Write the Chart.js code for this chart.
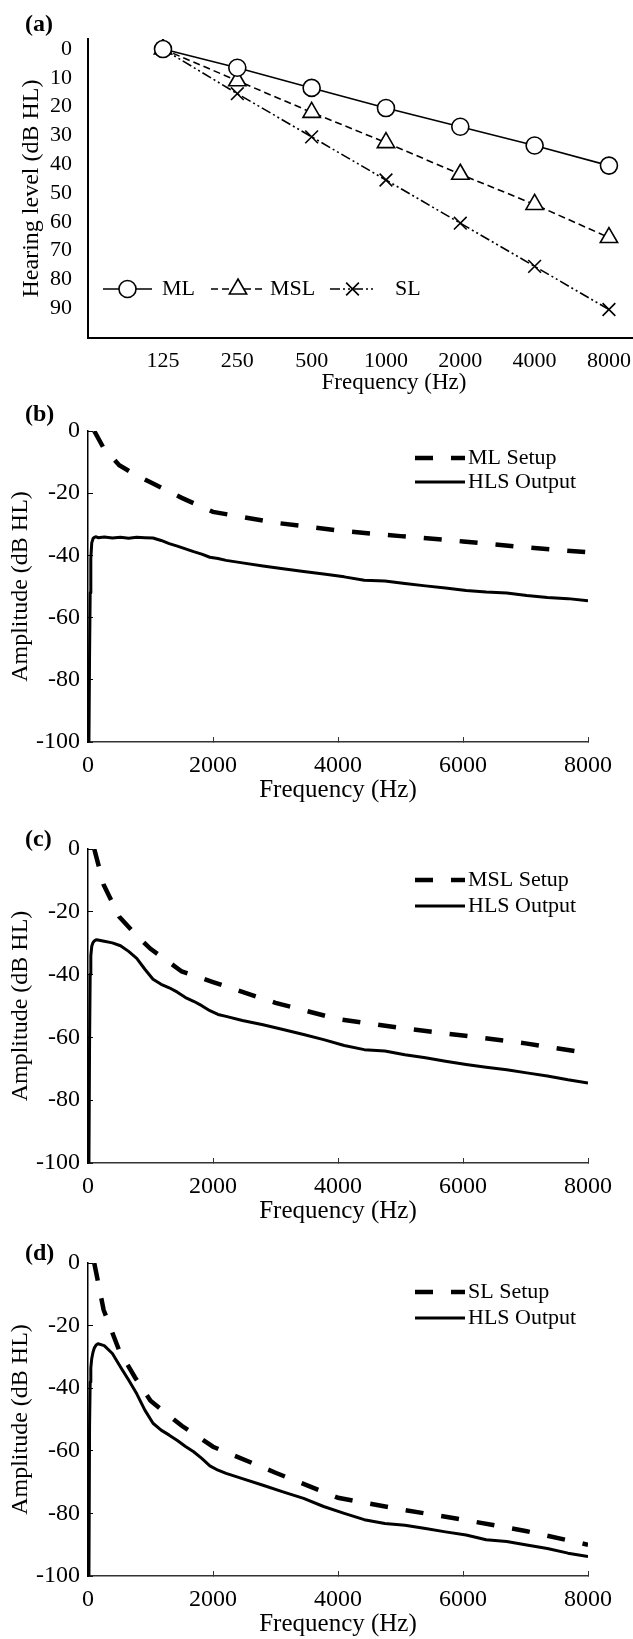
<!DOCTYPE html>
<html>
<head>
<meta charset="utf-8">
<script src="https://cdn.jsdelivr.net/npm/chart.js@4.4.1/dist/chart.umd.min.js"></script>
<style>
  html, body { margin: 0; padding: 0; background: #fff; overflow: hidden; }
  body { width: 633px; height: 1639px; position: relative; }
  .panel { position: absolute; left: 0; }
  .tag { position: absolute; left: 25px; font: bold 24px 'Liberation Serif', 'Times New Roman', serif; line-height: 24px; z-index: 2; }
</style>
</head>
<body>
<div class="tag" style="top:11px">(a)</div>
<div class="tag" style="top:401px">(b)</div>
<div class="tag" style="top:826px">(c)</div>
<div class="tag" style="top:1240px">(d)</div>

<canvas class="panel" id="chartA" width="700" height="400" style="top:0"></canvas>
<canvas class="panel" id="chartB" width="633" height="406" style="top:400px"></canvas>
<canvas class="panel" id="chartC" width="633" height="407" style="top:820px"></canvas>
<canvas class="panel" id="chartD" width="633" height="406" style="top:1234px"></canvas>

<script>
// ---- (a) audiograms ----
const freqLabels = ['125', '250', '500', '1000', '2000', '4000', '8000'];
const levelTicks = [0, 10, 20, 30, 40, 50, 60, 70, 80, 90];
const mlLevels  = [0, 6.5, 13.5, 20.5, 27, 33.5, 40.5];
const mslLevels = [0, 11, 22, 32.5, 43.5, 54, 65.5];
const slLevels  = [0, 15.5, 30.5, 45.5, 60.5, 75.5, 90.5];

// ---- (b)-(d) setup curves (dB HL) ----
const setupFreq = [100, 250, 500, 750, 1000, 1500, 2000, 3000, 4000, 5000, 6000, 7000, 8000];
const mlSetup  = [0, -5.5, -11, -14, -16.5, -21.5, -26, -29.5, -32, -33.8, -35.5, -37.4, -39];
const mslSetup = [0, -11.4, -21.6, -27, -31.8, -39, -42.4, -49, -54.2, -57, -59.4, -61.9, -65];
const slSetup  = [0, -15, -28, -36.5, -44, -52, -58.7, -67, -75, -78.7, -82, -85.6, -90];

// ---- (b)-(d) HLS output (dB HL) ----
const hlsFreq = [15, 25, 35, 45, 60, 80, 100, 130, 160, 260, 390, 520, 650, 780, 910, 1040, 1170, 1300,
  1430, 1560, 1690, 1820, 1950, 2080, 2210, 2470, 2800, 3120, 3450, 3770, 4100, 4420, 4750, 5070,
  5400, 5720, 6050, 6370, 6700, 7020, 7350, 7680, 8000];
const hlsML = [-100, -72, -52, -41, -36, -34.6, -34.2, -34, -34.3, -34.1, -34.4, -34.2, -34.5, -34.2, -34.3,
  -34.4, -35.2, -36.2, -37, -37.9, -38.8, -39.6, -40.6, -41, -41.6, -42.4, -43.4, -44.3, -45.2, -46,
  -46.9, -48, -48.2, -49, -49.8, -50.5, -51.3, -51.8, -52.1, -52.9, -53.5, -53.9, -54.6];
const hlsMSL = [-100, -62, -40, -34, -31, -29.8, -29.3, -28.9, -29, -29.4, -29.9, -30.8, -32.6, -34.8, -38.3,
  -41.5, -43.1, -44.2, -45.6, -47.3, -48.5, -49.9, -51.5, -52.7, -53.3, -54.6, -56, -57.5, -59.1, -60.7,
  -62.6, -63.9, -64.3, -65.5, -66.5, -67.6, -68.6, -69.5, -70.3, -71.3, -72.3, -73.5, -74.5];
const hlsSL = [-100, -52, -38, -33.5, -30.5, -28.5, -27.2, -26.2, -25.8, -26.4, -28.9, -33.2, -37.4, -41.8, -47,
  -51.2, -53.4, -55, -56.7, -58.6, -60.3, -62.4, -64.8, -66.2, -67.2, -68.9, -71, -73.1, -75.2, -77.8,
  -80, -82, -83.2, -83.8, -84.8, -85.9, -86.9, -88.4, -89, -90.1, -91.2, -92.7, -93.8];
const ampTicks = [0, -20, -40, -60, -80, -100];

const SERIF = "'Liberation Serif', 'Times New Roman', serif";
Chart.defaults.font.family = SERIF;
Chart.defaults.color = '#000';

function xy(xs, ys) { return xs.map((x, i) => ({ x: x, y: ys[i] })); }

function marker(ctx, style, x, y, r) {
  ctx.beginPath();
  if (style === 'circle') {
    ctx.arc(x, y, r, 0, Math.PI * 2);
    ctx.fill(); ctx.stroke();
  } else if (style === 'triangle') {
    for (let k = 0; k < 3; k++) {
      const a = k * 2 * Math.PI / 3;
      const px = x + Math.sin(a) * r, py = y - Math.cos(a) * r;
      if (k === 0) ctx.moveTo(px, py); else ctx.lineTo(px, py);
    }
    ctx.closePath();
    ctx.fill(); ctx.stroke();
  } else if (style === 'crossRot') {
    const d = r * Math.SQRT1_2;
    ctx.moveTo(x - d, y - d); ctx.lineTo(x + d, y + d);
    ctx.moveTo(x + d, y - d); ctx.lineTo(x - d, y + d);
    ctx.stroke();
  }
}

// legend drawn inside the plot area
const insideLegend = {
  id: 'insideLegend',
  afterDraw(chart, args, opts) {
    if (!opts.items) return;
    const ctx = chart.ctx;
    ctx.save();
    ctx.font = opts.font;
    ctx.textBaseline = 'middle';
    ctx.fillStyle = '#000';
    opts.items.forEach(it => {
      const ds = chart.data.datasets[it.dataset];
      ctx.strokeStyle = '#000';
      ctx.lineWidth = ds.borderWidth;
      ctx.setLineDash(ds.borderDash || []);
      ctx.beginPath();
      ctx.moveTo(it.x1, it.y);
      ctx.lineTo(it.x2, it.y);
      ctx.stroke();
      ctx.setLineDash([]);
      if (ds.pointRadius) {
        ctx.lineWidth = ds.pointBorderWidth;
        ctx.fillStyle = '#fff';
        marker(ctx, ds.pointStyle, (it.x1 + it.x2) / 2, it.y, ds.pointRadius);
        ctx.fillStyle = '#000';
      }
      ctx.fillText(it.text, it.tx, it.y);
    });
    ctx.restore();
  }
};

// (a)
const markerSet = (style, r) => ({
  pointStyle: style, pointRadius: r, pointHoverRadius: r, pointBorderWidth: 1.6,
  pointBackgroundColor: '#fff', pointBorderColor: '#000'
});

new Chart(document.getElementById('chartA'), {
  type: 'line',
  data: {
    datasets: [
      Object.assign({ label: 'ML', data: xy(freqLabels.map((f, i) => i), mlLevels),
        borderColor: '#000', borderWidth: 1.6, borderDash: [] }, markerSet('circle', 8.5)),
      Object.assign({ label: 'MSL', data: xy(freqLabels.map((f, i) => i), mslLevels),
        borderColor: '#000', borderWidth: 1.6, borderDash: [7, 4] }, markerSet('triangle', 10)),
      Object.assign({ label: 'SL', data: xy(freqLabels.map((f, i) => i), slLevels),
        borderColor: '#000', borderWidth: 1.6, borderDash: [10, 3, 2, 3, 2, 3] }, markerSet('crossRot', 9))
    ]
  },
  options: {
    responsive: false,
    animation: false,
    layout: { autoPadding: false, padding: { top: 39, left: 0, right: 0, bottom: 0 } },
    scales: {
      x: {
        type: 'linear', min: -1.009, max: 7.225,
        afterBuildTicks: s => { s.ticks = freqLabels.map((f, i) => ({ value: i })); },
        afterFit: s => { s.height = 62; },
        ticks: { callback: v => freqLabels[v], font: { size: 22 }, padding: 2, maxRotation: 0, autoSkip: false },
        grid: { display: false },
        border: { color: '#000', width: 2 },
        title: { display: true, text: 'Frequency (Hz)', font: { size: 23 }, padding: { top: 0, bottom: 3 } }
      },
      y: {
        type: 'linear', reverse: true, min: -3.5, max: 100.4,
        afterBuildTicks: s => { s.ticks = levelTicks.map(v => ({ value: v })); },
        afterFit: s => { s.width = 88; },
        ticks: { font: { size: 22 }, padding: 8 },
        grid: { display: false },
        border: { color: '#000', width: 2 },
        title: { display: true, text: 'Hearing level (dB HL)', font: { size: 24 }, padding: { top: 17, bottom: 0 } }
      }
    },
    plugins: {
      legend: { display: false },
      tooltip: { enabled: false },
      insideLegend: {
        font: '22px ' + SERIF,
        items: [
          { dataset: 0, x1: 103, x2: 152, y: 289, tx: 162, text: 'ML' },
          { dataset: 1, x1: 211, x2: 265, y: 289, tx: 270, text: 'MSL' },
          { dataset: 2, x1: 330, x2: 375, y: 289, tx: 395, text: 'SL' }
        ]
      }
    }
  },
  plugins: [insideLegend]
});

// (b)-(d)
function ampChart(id, top, height, setup, hls, setupName, rows) {
  new Chart(document.getElementById(id), {
    type: 'line',
    data: {
      datasets: [
        { label: setupName, data: xy(setupFreq, setup), borderColor: '#000', borderWidth: 4.5,
          borderDash: [18, 18], pointRadius: 0, tension: 0 },
        { label: 'HLS Output', data: xy(hlsFreq, hls), borderColor: '#000', borderWidth: 3,
          borderJoinStyle: 'round', pointRadius: 0, tension: 0 }
      ]
    },
    options: {
      responsive: false,
      animation: false,
      layout: { autoPadding: false, padding: { top: top, left: 0, right: 45, bottom: 0 } },
      scales: {
        x: {
          type: 'linear', min: 0, max: 8000,
          afterFit: s => { s.height = height; },
          ticks: { stepSize: 2000, callback: v => String(v), font: { size: 24 }, padding: 14, maxRotation: 0 },
          grid: { drawOnChartArea: false, tickLength: -5, color: '#333', lineWidth: 1 },
          border: { color: '#333', width: 1.5 },
          title: { display: true, text: 'Frequency (Hz)', font: { size: 25 }, padding: { top: 0, bottom: 1 } }
        },
        y: {
          type: 'linear', min: -100, max: 0,
          afterBuildTicks: s => { s.ticks = ampTicks.map(v => ({ value: v })); },
          afterFit: s => { s.width = 88; },
          ticks: { font: { size: 24 }, padding: 13 },
          grid: { drawOnChartArea: false, tickLength: -5, color: '#000', lineWidth: 1 },
          border: { color: '#000', width: 1.5 },
          title: { display: true, text: 'Amplitude (dB HL)', font: { size: 24 }, padding: { top: 6, bottom: 0 } }
        }
      },
      plugins: {
        legend: { display: false },
        tooltip: { enabled: false },
        insideLegend: {
          font: '22px ' + SERIF,
          items: [
            { dataset: 0, x1: 415, x2: 465, y: rows[0], tx: 468, text: setupName },
            { dataset: 1, x1: 415, x2: 465, y: rows[1], tx: 468, text: 'HLS Output' }
          ]
        }
      }
    },
    plugins: [insideLegend]
  });
}

ampChart('chartB', 31, 64, mlSetup, hlsML, 'ML Setup', [58, 82]);
ampChart('chartC', 29, 64, mslSetup, hlsMSL, 'MSL Setup', [60, 86]);
ampChart('chartD', 29, 64, slSetup, hlsSL, 'SL Setup', [58, 84]);
</script>
</body>
</html>
